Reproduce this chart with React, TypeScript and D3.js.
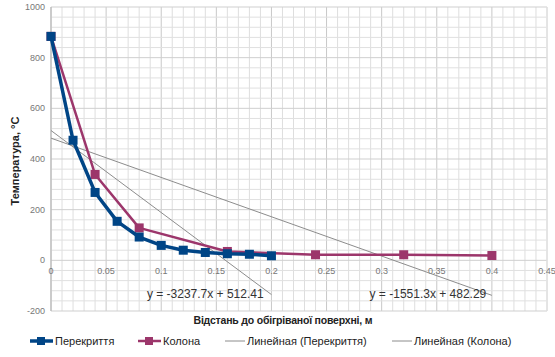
import * as d3 from 'd3';
import React from 'react';

const xPerekr = [0, 0.02, 0.04, 0.06, 0.08, 0.1, 0.12, 0.14, 0.16, 0.18, 0.2];
const yPerekr = [884, 474, 268, 154, 92, 59, 40, 31, 26, 24, 18];
const xKolona = [0, 0.04, 0.08, 0.16, 0.24, 0.32, 0.4];
const yKolona = [884, 339, 128, 35, 22, 22, 19];
const xTicks = [0, 0.05, 0.1, 0.15, 0.2, 0.25, 0.3, 0.35, 0.4, 0.45];
const yTicks = [-200, 0, 200, 400, 600, 800, 1000];
const trendPerekr = { a: -3237.7, b: 512.41, label: 'y = -3237.7x + 512.41' };
const trendKolona = { a: -1551.3, b: 482.29, label: 'y = -1551.3x + 482.29' };
const legendItems = ['Перекриття', 'Колона', 'Линейная (Перекриття)', 'Линейная (Колона)'];

const W = 555;
const H = 357;
const margin = { top: 7, right: 8, bottom: 46, left: 51 };
const BLUE = '#004586';
const PINK = '#9c366b';
const TREND = '#8c8c8c';
const font = '"Liberation Sans", Arial, sans-serif';

export default function App() {
  const x = d3.scaleLinear().domain([0, 0.45]).range([margin.left, W - margin.right]);
  const y = d3.scaleLinear().domain([-200, 1000]).range([H - margin.bottom, margin.top]);

  const minorX = d3.range(0, 0.4501, 0.01);
  const minorY = d3.range(-200, 1001, 40);

  const line = d3.line<[number, number]>()
    .x(d => x(d[0]))
    .y(d => y(d[1]));

  const pData = xPerekr.map((v, i) => [v, yPerekr[i]] as [number, number]);
  const kData = xKolona.map((v, i) => [v, yKolona[i]] as [number, number]);

  const trendLine = (t: { a: number; b: number }, x1: number) =>
    line([[0, t.b], [x1, t.a * x1 + t.b]]);

  const legendX = [30, 138, 225, 392];
  const legendY = 341;

  return (
    <svg width={W} height={H} style={{ position: 'absolute', left: 0, top: 0 }} fontFamily={font}>
      <rect width={W} height={H} fill="#fff" />
      {/* grid */}
      {minorX.map((v, i) => (
        <line key={'gx' + i} x1={x(v)} x2={x(v)} y1={y(1000)} y2={y(-200)}
          stroke={i % 5 === 0 ? '#c8c8c8' : '#dedede'} strokeWidth={1} />
      ))}
      {minorY.map((v, i) => (
        <line key={'gy' + i} x1={x(0)} x2={x(0.45)} y1={y(v)} y2={y(v)}
          stroke={v % 200 === 0 ? '#cfcfcf' : '#e0e0e0'} strokeWidth={1} />
      ))}
      <line x1={x(0)} x2={x(0)} y1={y(1000)} y2={y(-200)} stroke="#b3b3b3" />
      <line x1={x(0.45)} x2={x(0.45)} y1={y(1000)} y2={y(-200)} stroke="#e6e6e6" />

      {/* tick labels */}
      {yTicks.map(v => (
        <text key={'yt' + v} x={x(0) - 6} y={y(v)} dy="0.35em" textAnchor="end" fontSize={9} fill="#777">{v}</text>
      ))}
      {xTicks.map(v => (
        <text key={'xt' + v} x={x(v)} y={y(0) + 11} dy="0.35em" textAnchor="middle" fontSize={9} fill="#777">{v}</text>
      ))}

      {/* trend lines */}
      <path d={trendLine(trendPerekr, 0.2) || ''} fill="none" stroke={TREND} strokeWidth={1} />
      <path d={trendLine(trendKolona, 0.4) || ''} fill="none" stroke={TREND} strokeWidth={1} />

      {/* series */}
      <path d={line(kData) || ''} fill="none" stroke={PINK} strokeWidth={2.5} strokeLinejoin="round" />
      {kData.map((d, i) => (
        <rect key={'k' + i} x={x(d[0]) - 4.5} y={y(d[1]) - 4.5} width={9} height={9} fill={PINK} />
      ))}
      <path d={line(pData) || ''} fill="none" stroke={BLUE} strokeWidth={3.5} strokeLinejoin="round" />
      {pData.map((d, i) => (
        <rect key={'p' + i} x={x(d[0]) - 4.5} y={y(d[1]) - 4.5} width={9} height={9} fill={BLUE} />
      ))}

      {/* equations */}
      <text x={x(0.087)} y={y(-133)} dy="0.35em" fontSize={12} fill="#333">{trendPerekr.label}</text>
      <text x={x(0.289)} y={y(-133)} dy="0.35em" fontSize={12} fill="#333">{trendKolona.label}</text>

      {/* axis titles */}
      <text transform={`translate(15,161) rotate(-90)`} textAnchor="middle" dy="0.35em" fontSize={11} fontWeight="bold" fill="#222">Температура, °С</text>
      <text x={283} y={320} dy="0.35em" textAnchor="middle" fontSize={10.5} fontWeight="bold" fill="#222" textLength={179}>Відстань до обігріваної поверхні, м</text>

      {/* legend */}
      <g>
        <line x1={legendX[0]} x2={legendX[0] + 23} y1={legendY} y2={legendY} stroke={BLUE} strokeWidth={3.5} />
        <rect x={legendX[0] + 7} y={legendY - 4} width={8} height={8} fill={BLUE} />
        <text x={legendX[0] + 25} y={legendY} dy="0.35em" fontSize={11} fill="#222">{legendItems[0]}</text>

        <line x1={legendX[1]} x2={legendX[1] + 23} y1={legendY} y2={legendY} stroke={PINK} strokeWidth={2.5} />
        <rect x={legendX[1] + 7} y={legendY - 4} width={8} height={8} fill={PINK} />
        <text x={legendX[1] + 25} y={legendY} dy="0.35em" fontSize={11} fill="#222">{legendItems[1]}</text>

        <line x1={legendX[2]} x2={legendX[2] + 20} y1={legendY} y2={legendY} stroke={TREND} strokeWidth={1} />
        <text x={legendX[2] + 22} y={legendY} dy="0.35em" fontSize={11} fill="#222">{legendItems[2]}</text>

        <line x1={legendX[3]} x2={legendX[3] + 20} y1={legendY} y2={legendY} stroke={TREND} strokeWidth={1} />
        <text x={legendX[3] + 22} y={legendY} dy="0.35em" fontSize={11} fill="#222">{legendItems[3]}</text>
      </g>
    </svg>
  );
}
